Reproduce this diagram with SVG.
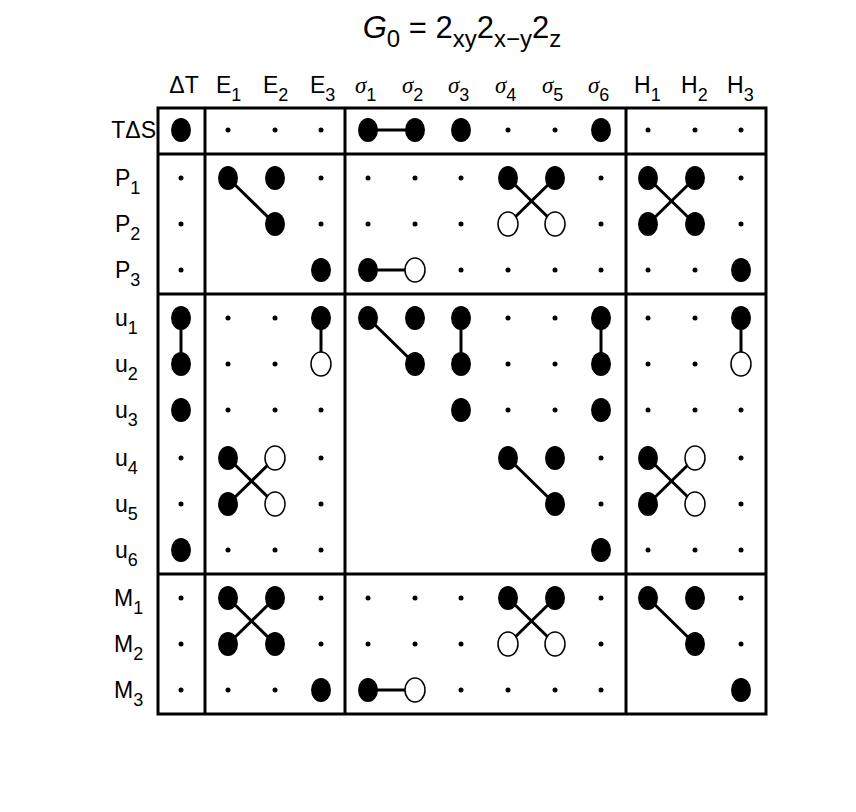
<svg xmlns="http://www.w3.org/2000/svg" width="856" height="812" viewBox="0 0 856 812">
<style>
text{font-family:"Liberation Sans",Arial,sans-serif;font-size:23px;fill:#000}
.s{font-family:"Liberation Serif",serif;font-style:italic}
.f{fill:#000}
.o{fill:#fff;stroke:#000;stroke-width:1.5}
.d{fill:#000}
.b{fill:none;stroke:#000;stroke-width:3}
.l{stroke:#000;stroke-width:3}
</style>
<defs>
<ellipse id="F" rx="10" ry="12" class="f"/>
<ellipse id="O" rx="10" ry="12" class="o"/>
<circle id="s" r="2.5" class="d"/>
</defs>
<rect width="856" height="812" fill="#fff"/>
<text x="462" y="38" text-anchor="middle" style="font-size:31px"><tspan font-style="italic">G</tspan><tspan dy="9" font-size="24">0</tspan><tspan dy="-9"> = 2</tspan><tspan dy="9" font-size="24">xy</tspan><tspan dy="-9">2</tspan><tspan dy="9" font-size="24">x−y</tspan><tspan dy="-9">2</tspan><tspan dy="9" font-size="24">z</tspan></text>
<g id="colheads">
<text x="184" y="93" text-anchor="middle">ΔT</text>
<text x="216" y="93">E<tspan dy="8" font-size="18">1</tspan></text>
<text x="263" y="93">E<tspan dy="8" font-size="18">2</tspan></text>
<text x="310" y="93">E<tspan dy="8" font-size="18">3</tspan></text>
<text x="355" y="93" class="s">σ<tspan dy="8" font-size="18" font-style="normal" font-family="Liberation Sans">1</tspan></text>
<text x="402" y="93" class="s">σ<tspan dy="8" font-size="18" font-style="normal" font-family="Liberation Sans">2</tspan></text>
<text x="448" y="93" class="s">σ<tspan dy="8" font-size="18" font-style="normal" font-family="Liberation Sans">3</tspan></text>
<text x="495" y="93" class="s">σ<tspan dy="8" font-size="18" font-style="normal" font-family="Liberation Sans">4</tspan></text>
<text x="542" y="93" class="s">σ<tspan dy="8" font-size="18" font-style="normal" font-family="Liberation Sans">5</tspan></text>
<text x="588" y="93" class="s">σ<tspan dy="8" font-size="18" font-style="normal" font-family="Liberation Sans">6</tspan></text>
<text x="634" y="93">H<tspan dy="8" font-size="18">1</tspan></text>
<text x="681" y="93">H<tspan dy="8" font-size="18">2</tspan></text>
<text x="727" y="93">H<tspan dy="8" font-size="18">3</tspan></text>
</g>
<g id="rowheads">
<text x="156" y="138" text-anchor="end">TΔS</text>
<text x="115" y="186">P<tspan dy="8" font-size="18">1</tspan></text>
<text x="115" y="232">P<tspan dy="8" font-size="18">2</tspan></text>
<text x="115" y="278">P<tspan dy="8" font-size="18">3</tspan></text>
<text x="115" y="326">u<tspan dy="8" font-size="18">1</tspan></text>
<text x="115" y="372">u<tspan dy="8" font-size="18">2</tspan></text>
<text x="115" y="418">u<tspan dy="8" font-size="18">3</tspan></text>
<text x="115" y="466">u<tspan dy="8" font-size="18">4</tspan></text>
<text x="115" y="512">u<tspan dy="8" font-size="18">5</tspan></text>
<text x="115" y="558">u<tspan dy="8" font-size="18">6</tspan></text>
<text x="114" y="606">M<tspan dy="8" font-size="18">1</tspan></text>
<text x="114" y="652">M<tspan dy="8" font-size="18">2</tspan></text>
<text x="114" y="698">M<tspan dy="8" font-size="18">3</tspan></text>
</g>
<g id="frame">
<rect x="158" y="108" width="608" height="606" class="b"/>
<line x1="205" y1="108" x2="205" y2="714" class="l"/>
<line x1="345" y1="108" x2="345" y2="714" class="l"/>
<line x1="626" y1="108" x2="626" y2="714" class="l"/>
<line x1="158" y1="154" x2="766" y2="154" class="l"/>
<line x1="158" y1="294" x2="766" y2="294" class="l"/>
<line x1="158" y1="574" x2="766" y2="574" class="l"/>
</g>
<g id="connectors">
<line x1="368" y1="130" x2="415" y2="130" class="l"/>
<line x1="228" y1="178" x2="275" y2="224" class="l"/>
<line x1="508" y1="178" x2="555" y2="224" class="l"/>
<line x1="555" y1="178" x2="508" y2="224" class="l"/>
<line x1="648" y1="178" x2="695" y2="224" class="l"/>
<line x1="695" y1="178" x2="648" y2="224" class="l"/>
<line x1="368" y1="270" x2="415" y2="270" class="l"/>
<line x1="181" y1="318" x2="181" y2="364" class="l"/>
<line x1="321" y1="318" x2="321" y2="364" class="l"/>
<line x1="368" y1="318" x2="415" y2="364" class="l"/>
<line x1="461" y1="318" x2="461" y2="364" class="l"/>
<line x1="601" y1="318" x2="601" y2="364" class="l"/>
<line x1="741" y1="318" x2="741" y2="364" class="l"/>
<line x1="228" y1="458" x2="275" y2="504" class="l"/>
<line x1="275" y1="458" x2="228" y2="504" class="l"/>
<line x1="508" y1="458" x2="555" y2="504" class="l"/>
<line x1="648" y1="458" x2="695" y2="504" class="l"/>
<line x1="695" y1="458" x2="648" y2="504" class="l"/>
<line x1="228" y1="598" x2="275" y2="644" class="l"/>
<line x1="275" y1="598" x2="228" y2="644" class="l"/>
<line x1="508" y1="598" x2="555" y2="644" class="l"/>
<line x1="555" y1="598" x2="508" y2="644" class="l"/>
<line x1="648" y1="598" x2="695" y2="644" class="l"/>
<line x1="368" y1="690" x2="415" y2="690" class="l"/>
</g>
<g id="marks">
<use href="#F" x="181" y="130"/><use href="#s" x="228" y="130"/><use href="#s" x="275" y="130"/><use href="#s" x="321" y="130"/><use href="#F" x="368" y="130"/><use href="#F" x="415" y="130"/><use href="#F" x="461" y="130"/><use href="#s" x="508" y="130"/><use href="#s" x="555" y="130"/><use href="#F" x="601" y="130"/><use href="#s" x="648" y="130"/><use href="#s" x="695" y="130"/><use href="#s" x="741" y="130"/>
<use href="#s" x="181" y="178"/><use href="#F" x="228" y="178"/><use href="#F" x="275" y="178"/><use href="#s" x="321" y="178"/><use href="#s" x="368" y="178"/><use href="#s" x="415" y="178"/><use href="#s" x="461" y="178"/><use href="#F" x="508" y="178"/><use href="#F" x="555" y="178"/><use href="#s" x="601" y="178"/><use href="#F" x="648" y="178"/><use href="#F" x="695" y="178"/><use href="#s" x="741" y="178"/>
<use href="#s" x="181" y="224"/><use href="#F" x="275" y="224"/><use href="#s" x="321" y="224"/><use href="#s" x="368" y="224"/><use href="#s" x="415" y="224"/><use href="#s" x="461" y="224"/><use href="#O" x="508" y="224"/><use href="#O" x="555" y="224"/><use href="#s" x="601" y="224"/><use href="#F" x="648" y="224"/><use href="#F" x="695" y="224"/><use href="#s" x="741" y="224"/>
<use href="#s" x="181" y="270"/><use href="#F" x="321" y="270"/><use href="#F" x="368" y="270"/><use href="#O" x="415" y="270"/><use href="#s" x="461" y="270"/><use href="#s" x="508" y="270"/><use href="#s" x="555" y="270"/><use href="#s" x="601" y="270"/><use href="#s" x="648" y="270"/><use href="#s" x="695" y="270"/><use href="#F" x="741" y="270"/>
<use href="#F" x="181" y="318"/><use href="#s" x="228" y="318"/><use href="#s" x="275" y="318"/><use href="#F" x="321" y="318"/><use href="#F" x="368" y="318"/><use href="#F" x="415" y="318"/><use href="#F" x="461" y="318"/><use href="#s" x="508" y="318"/><use href="#s" x="555" y="318"/><use href="#F" x="601" y="318"/><use href="#s" x="648" y="318"/><use href="#s" x="695" y="318"/><use href="#F" x="741" y="318"/>
<use href="#F" x="181" y="364"/><use href="#s" x="228" y="364"/><use href="#s" x="275" y="364"/><use href="#O" x="321" y="364"/><use href="#F" x="415" y="364"/><use href="#F" x="461" y="364"/><use href="#s" x="508" y="364"/><use href="#s" x="555" y="364"/><use href="#F" x="601" y="364"/><use href="#s" x="648" y="364"/><use href="#s" x="695" y="364"/><use href="#O" x="741" y="364"/>
<use href="#F" x="181" y="410"/><use href="#s" x="228" y="410"/><use href="#s" x="275" y="410"/><use href="#s" x="321" y="410"/><use href="#F" x="461" y="410"/><use href="#s" x="508" y="410"/><use href="#s" x="555" y="410"/><use href="#F" x="601" y="410"/><use href="#s" x="648" y="410"/><use href="#s" x="695" y="410"/><use href="#s" x="741" y="410"/>
<use href="#s" x="181" y="458"/><use href="#F" x="228" y="458"/><use href="#O" x="275" y="458"/><use href="#s" x="321" y="458"/><use href="#F" x="508" y="458"/><use href="#F" x="555" y="458"/><use href="#s" x="601" y="458"/><use href="#F" x="648" y="458"/><use href="#O" x="695" y="458"/><use href="#s" x="741" y="458"/>
<use href="#s" x="181" y="504"/><use href="#F" x="228" y="504"/><use href="#O" x="275" y="504"/><use href="#s" x="321" y="504"/><use href="#F" x="555" y="504"/><use href="#s" x="601" y="504"/><use href="#F" x="648" y="504"/><use href="#O" x="695" y="504"/><use href="#s" x="741" y="504"/>
<use href="#F" x="181" y="550"/><use href="#s" x="228" y="550"/><use href="#s" x="275" y="550"/><use href="#s" x="321" y="550"/><use href="#F" x="601" y="550"/><use href="#s" x="648" y="550"/><use href="#s" x="695" y="550"/><use href="#s" x="741" y="550"/>
<use href="#s" x="181" y="598"/><use href="#F" x="228" y="598"/><use href="#F" x="275" y="598"/><use href="#s" x="321" y="598"/><use href="#s" x="368" y="598"/><use href="#s" x="415" y="598"/><use href="#s" x="461" y="598"/><use href="#F" x="508" y="598"/><use href="#F" x="555" y="598"/><use href="#s" x="601" y="598"/><use href="#F" x="648" y="598"/><use href="#F" x="695" y="598"/><use href="#s" x="741" y="598"/>
<use href="#s" x="181" y="644"/><use href="#F" x="228" y="644"/><use href="#F" x="275" y="644"/><use href="#s" x="321" y="644"/><use href="#s" x="368" y="644"/><use href="#s" x="415" y="644"/><use href="#s" x="461" y="644"/><use href="#O" x="508" y="644"/><use href="#O" x="555" y="644"/><use href="#s" x="601" y="644"/><use href="#F" x="695" y="644"/><use href="#s" x="741" y="644"/>
<use href="#s" x="181" y="690"/><use href="#s" x="228" y="690"/><use href="#s" x="275" y="690"/><use href="#F" x="321" y="690"/><use href="#F" x="368" y="690"/><use href="#O" x="415" y="690"/><use href="#s" x="461" y="690"/><use href="#s" x="508" y="690"/><use href="#s" x="555" y="690"/><use href="#s" x="601" y="690"/><use href="#F" x="741" y="690"/>
</g>
</svg>
